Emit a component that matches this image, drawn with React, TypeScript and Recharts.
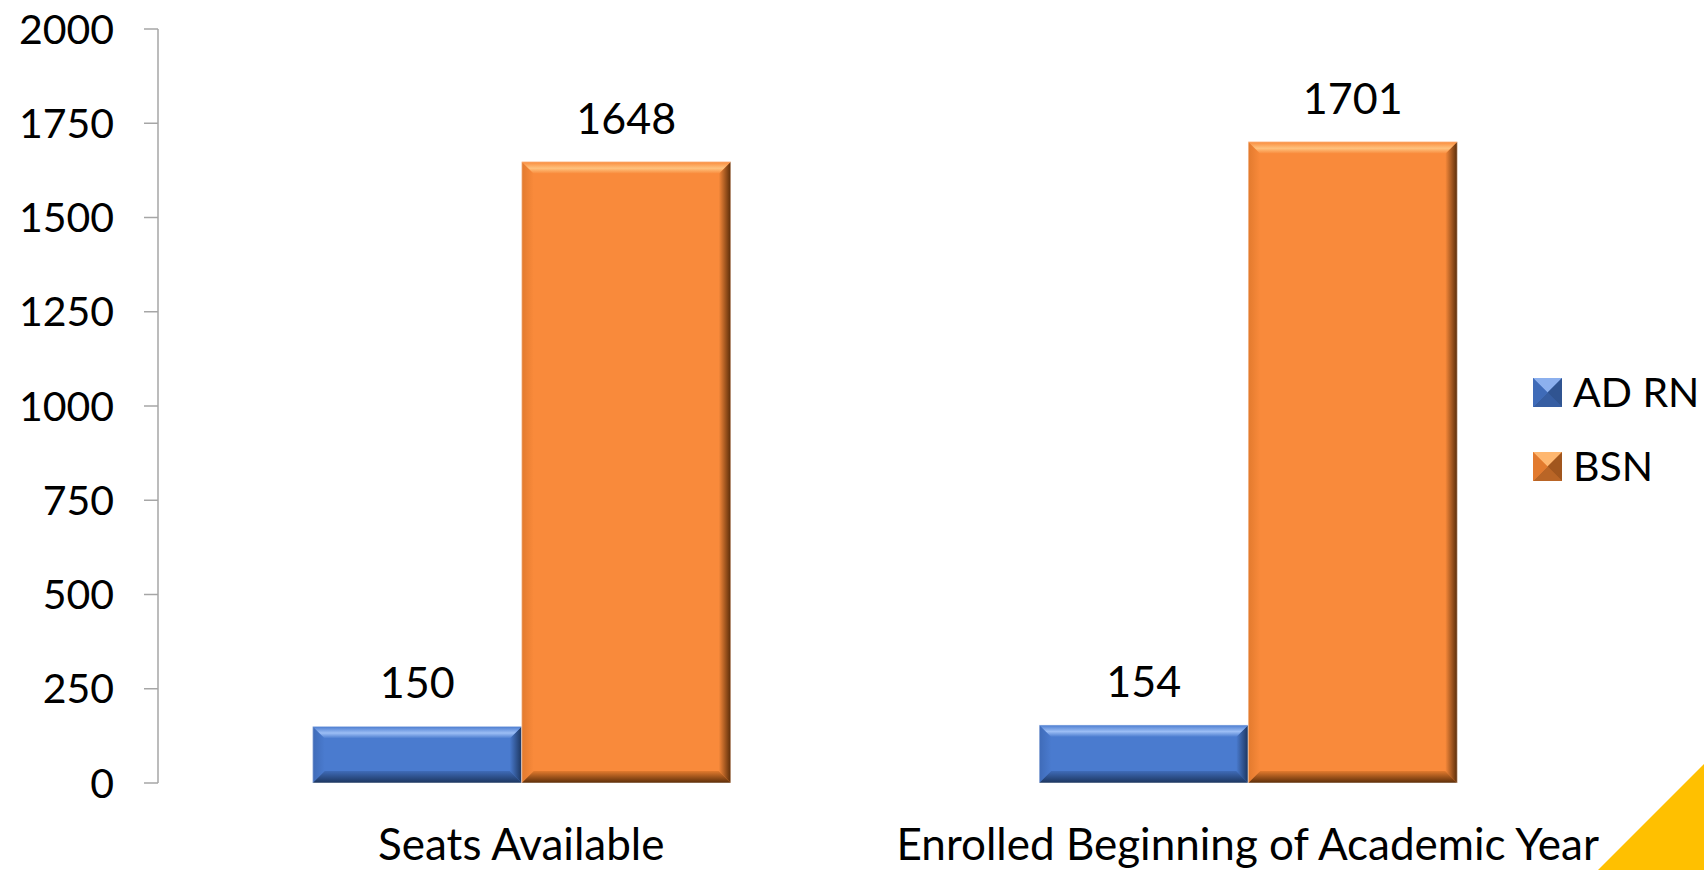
import React from 'react';
import { BarChart, Bar, XAxis, YAxis, Legend, LabelList } from 'recharts';

/* -------------------------------------------------------
   DATA
-------------------------------------------------------- */
const categories = ['Seats Available', 'Enrolled Beginning of Academic Year'];
const adRn = [150, 154];
const bsn = [1648, 1701];
const yTicks = [0, 250, 500, 750, 1000, 1250, 1500, 1750, 2000];
const boundaryTicks = [0, 1, 2];

const chartData = categories.map((name, i) => ({ name, adRn: adRn[i], bsn: bsn[i], pos: i + 0.5 }));

type Palette = { body: string; light: string; dark: string; side: string };

const BLUE: Palette = { body: '#4a7bcf', light: '#9cbef5', dark: '#1c355e', side: '#3f6bb8' };
const ORANGE: Palette = { body: '#f98a3b', light: '#ffc27e', dark: '#5a2c08', side: '#e27a2e' };

const FONT = 'Lato, "Open Sans", sans-serif';
const AXIS_GRAY = '#a6a6a6';

/* -------------------------------------------------------
   BEVELED BAR SHAPE
-------------------------------------------------------- */
const makeBevelBar = (p: Palette, key: string) => (props: any) => {
  const { x, y, width: w, height: h, index } = props;
  if (!w || !h) return <g />;
  const b = Math.min(12, w / 4, h / 3);
  const id = `${key}-${index}`;
  return (
    <g>
      <defs>
        <linearGradient id={`${id}-t`} x1="0" y1="0" x2="0" y2="1">
          <stop offset="0%" stopColor={p.body} />
          <stop offset="55%" stopColor={p.light} />
          <stop offset="100%" stopColor={p.body} />
        </linearGradient>
        <linearGradient id={`${id}-r`} x1="0" y1="0" x2="1" y2="0">
          <stop offset="0%" stopColor={p.body} />
          <stop offset="100%" stopColor={p.dark} />
        </linearGradient>
        <linearGradient id={`${id}-b`} x1="0" y1="0" x2="0" y2="1">
          <stop offset="0%" stopColor={p.side} />
          <stop offset="100%" stopColor={p.dark} />
        </linearGradient>
        <linearGradient id={`${id}-l`} x1="0" y1="0" x2="1" y2="0">
          <stop offset="0%" stopColor={p.side} />
          <stop offset="100%" stopColor={p.body} />
        </linearGradient>
      </defs>
      <rect x={x} y={y} width={w} height={h} fill={p.body} />
      <polygon points={`${x},${y} ${x + b},${y + b} ${x + b},${y + h - b} ${x},${y + h}`} fill={`url(#${id}-l)`} />
      <polygon points={`${x + w},${y} ${x + w},${y + h} ${x + w - b},${y + h - b} ${x + w - b},${y + b}`} fill={`url(#${id}-r)`} />
      <polygon points={`${x},${y + h} ${x + w},${y + h} ${x + w - b},${y + h - b} ${x + b},${y + h - b}`} fill={`url(#${id}-b)`} />
      <polygon points={`${x},${y} ${x + w},${y} ${x + w - b},${y + b} ${x + b},${y + b}`} fill={`url(#${id}-t)`} />
      <rect x={x} y={y} width={w} height={h} fill="none" stroke="#ffffff" strokeOpacity={0.5} strokeWidth={1} />
    </g>
  );
};

const LegendIcon = ({ p }: { p: Palette }) => {
  const s = 29;
  const c = s / 2;
  return (
    <svg width={s} height={s} style={{ display: 'block' }}>
      <rect x={0} y={0} width={s} height={s} fill={p.body} />
      <polygon points={`0,0 ${s},0 ${c},${c}`} fill={p.light} opacity={0.8} />
      <polygon points={`${s},0 ${s},${s} ${c},${c}`} fill={p.dark} opacity={0.55} />
      <polygon points={`0,${s} ${s},${s} ${c},${c}`} fill={p.dark} opacity={0.4} />
      <polygon points={`0,0 0,${s} ${c},${c}`} fill={p.side} />
    </svg>
  );
};

const renderLegend = () => (
  <div style={{ fontFamily: FONT, fontSize: 41, color: '#000' }}>
    {[
      { label: 'AD RN', p: BLUE },
      { label: 'BSN', p: ORANGE },
    ].map((item, i) => (
      <div key={item.label} style={{ display: 'flex', alignItems: 'center', height: 44, marginBottom: i === 0 ? 30 : 0 }}>
        <LegendIcon p={item.p} />
        <span style={{ marginLeft: 11, lineHeight: '44px' }}>{item.label}</span>
      </div>
    ))}
  </div>
);

/* -------------------------------------------------------
   COMPONENT
-------------------------------------------------------- */
const App = () => {
  return (
    <div style={{ position: 'absolute', left: 0, top: 0, width: 1704, height: 870, background: '#fff', overflow: 'hidden' }}>
      <BarChart
        width={1704}
        height={870}
        data={chartData}
        margin={{ top: 29, right: 93, left: 0, bottom: 0 }}
        barCategoryGap="21.3%"
        barGap={0}
      >
        <XAxis
          xAxisId="bound"
          type="number"
          dataKey="pos"
          domain={[0, 2]}
          ticks={boundaryTicks}
          height={0}
          axisLine={{ stroke: AXIS_GRAY, strokeWidth: 1.5 }}
          tickLine={{ stroke: AXIS_GRAY, strokeWidth: 1.5 }}
          tickSize={14}
          tick={() => <g />}
        />
        <XAxis
          dataKey="name"
          height={87}
          axisLine={false}
          tickLine={false}
          tickSize={0}
          tickMargin={46}
          interval={0}
          tick={{ fontFamily: FONT, fontSize: 44, fill: '#000' }}
        />
        <YAxis
          width={158}
          domain={[0, 2000]}
          ticks={yTicks}
          axisLine={{ stroke: AXIS_GRAY, strokeWidth: 1.5 }}
          tickLine={{ stroke: AXIS_GRAY, strokeWidth: 1.5 }}
          tickSize={14}
          tickMargin={30}
          tick={{ fontFamily: FONT, fontSize: 41, fill: '#000' }}
        />
        <Legend
          layout="vertical"
          align="center"
          verticalAlign="middle"
          content={renderLegend}
          wrapperStyle={{ left: 1533, top: 370, width: 171 }}
        />
        <Bar dataKey="adRn" name="AD RN" fill={BLUE.body} shape={makeBevelBar(BLUE, 'blue')} isAnimationActive={false}>
          <LabelList dataKey="adRn" position="top" offset={28} style={{ fontFamily: FONT, fontSize: 43, fill: '#000' }} />
        </Bar>
        <Bar dataKey="bsn" name="BSN" fill={ORANGE.body} shape={makeBevelBar(ORANGE, 'orange')} isAnimationActive={false}>
          <LabelList dataKey="bsn" position="top" offset={28} style={{ fontFamily: FONT, fontSize: 43, fill: '#000' }} />
        </Bar>
      </BarChart>
      <div
        style={{
          position: 'absolute',
          right: 0,
          bottom: 0,
          width: 106,
          height: 106,
          background: '#ffc000',
          clipPath: 'polygon(100% 0, 100% 100%, 0 100%)',
        }}
      />
    </div>
  );
};

export default App;
